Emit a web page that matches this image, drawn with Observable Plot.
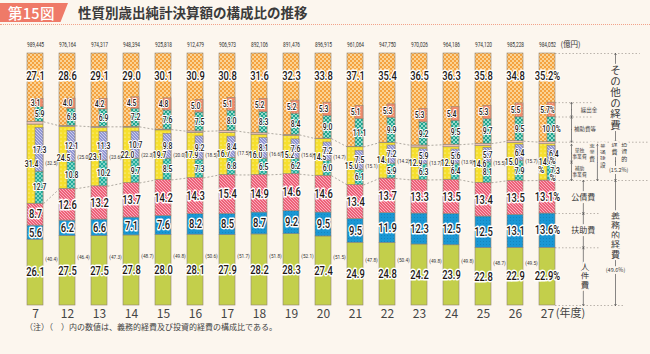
<!DOCTYPE html>
<html><head><meta charset="utf-8">
<script src="https://cdn.jsdelivr.net/npm/d3@7"></script>
<script src="https://cdn.jsdelivr.net/npm/@observablehq/plot@0.6"></script>
<style>
body{margin:0;background:#fcf6ee;font-family:"Noto Sans CJK JP",sans-serif;width:650px;height:354px;overflow:hidden}
#hdr{position:relative;height:28px}
#badge{position:absolute;left:0;top:3px;width:68px;height:19px;background:#ef7a68;clip-path:polygon(0 0,100% 0,89% 100%,0 100%);color:#fff;font-size:14.5px;font-weight:500;line-height:19px;padding-left:8px;box-sizing:border-box;letter-spacing:0.3px}
#title{position:absolute;left:78px;top:2px;font-size:13.5px;font-weight:700;color:#3b3b3b;line-height:21px}
#rule{position:absolute;left:0;right:0;top:24px;border-top:1.5px dotted #f2a38a}
#note{font-size:8px;color:#444;margin-left:25px;line-height:14px;white-space:pre}
#chart svg{display:block}
</style></head>
<body>
<svg width="0" height="0" style="position:absolute">
<defs>
<pattern id="pO" width="4" height="4" patternUnits="userSpaceOnUse"><rect width="4" height="4" fill="#f4a240"/><rect width="2" height="2" fill="#fbd394"/><rect x="2" y="2" width="2" height="2" fill="#fbd394"/></pattern>
<pattern id="pR" width="3" height="3" patternUnits="userSpaceOnUse"><rect width="3" height="3" fill="#ef8a6c"/><rect width="1" height="1" fill="#f6ad98"/></pattern>
<pattern id="pH" width="4" height="4" patternUnits="userSpaceOnUse"><rect width="4" height="4" fill="#1fa58e"/><path d="M0,0L2,2L4,0M0,4L2,2L4,4" stroke="#c8efe6" stroke-width="0.7" fill="none"/></pattern>
<pattern id="pD" width="3" height="3" patternUnits="userSpaceOnUse"><rect width="3" height="3" fill="#f1c3b8"/></pattern>
<pattern id="pY" width="4" height="4" patternUnits="userSpaceOnUse"><rect width="4" height="4" fill="#f6df2c"/><circle cx="1" cy="1" r="0.6" fill="#fffbe0"/></pattern>
<pattern id="pT" width="3" height="3" patternUnits="userSpaceOnUse"><rect width="3" height="3" fill="#9297d3"/><path d="M0,0L3,3" stroke="#d9dbf3" stroke-width="0.8"/></pattern>
<pattern id="pS" width="4" height="4" patternUnits="userSpaceOnUse"><rect width="4" height="4" fill="#22ad9c"/><path d="M0,0L4,4M4,0L0,4" stroke="#bfeee6" stroke-width="0.6"/></pattern>
<pattern id="pK" width="3" height="3" patternUnits="userSpaceOnUse"><rect width="3" height="3" fill="#ee6079"/><path d="M0,0L3,3" stroke="#f9c3cc" stroke-width="0.8"/></pattern>
<pattern id="pF" width="3" height="3" patternUnits="userSpaceOnUse"><rect width="3" height="3" fill="#1a97d4"/><rect width="1" height="1" fill="#1485bd"/></pattern>
<pattern id="pJ" width="3" height="3" patternUnits="userSpaceOnUse"><rect width="3" height="3" fill="#c3cf4b"/></pattern>
</defs>
</svg>
<div id="hdr"><div id="badge">第15図</div><div id="title">性質別歳出純計決算額の構成比の推移</div><div id="rule"></div></div>
<div id="chart"></div>
<div id="note">（注）（　）内の数値は、義務的経費及び投資的経費の構成比である。</div>
<script>
const years = ["7","12","13","14","15","16","17","18","19","20","21","22","23","24","25","26","27"];
const totals = ["989,445","976,164","974,317","948,394","925,818","912,479","906,973","892,106","891,476","896,915","961,064","947,750","970,026","964,186","974,120","985,228","984,052"];
// その他の経費
const otherExp = [27.1,28.6,29.1,29.0,30.1,30.9,30.8,31.6,32.3,33.8,37.1,35.4,36.5,36.3,35.8,34.8,35.2];
// 繰出金
const transfers = [3.1,4.0,4.2,4.5,4.8,5.0,5.1,5.2,5.2,5.3,5.1,5.3,5.3,5.4,5.3,5.5,5.7];
// 補助費等
const subsidies = [5.9,6.8,6.9,7.2,7.6,7.5,8.0,8.3,8.4,9.0,11.1,9.9,9.2,9.5,9.7,9.5,10.0];
// 投資的経費
const investment = [32.5,25.0,23.6,22.3,20.0,18.5,17.5,16.6,15.6,14.7,15.1,14.2,13.7,13.9,15.5,15.7,15.2];
// 普通建設事業費
const construction = [31.4,24.5,23.1,22.0,19.7,17.9,16.7,16.0,15.2,14.5,15.0,14.1,12.9,12.9,14.6,15.0,14.4];
// 単独事業費
const independent = [17.3,12.1,11.3,10.7,9.8,9.2,8.4,8.1,7.6,7.2,7.5,7.2,5.9,5.6,5.7,6.4,6.4];
// 補助事業費
const subsidized = [12.7,10.8,10.2,9.7,8.5,7.3,6.8,6.5,6.2,6.0,6.1,5.9,6.3,6.4,8.1,7.9,7.3];
// 義務的経費
const mandatory = [40.4,46.4,47.3,48.7,49.8,50.6,51.7,51.8,52.1,51.5,47.8,50.4,49.8,49.8,48.7,49.5,49.6];
// 人件費
const personnel = [26.1,27.5,27.5,27.8,28.0,28.1,27.9,28.2,28.3,27.4,24.9,24.8,24.2,23.9,22.8,22.9,22.9];
// 扶助費
const assistance = [5.6,6.2,6.6,7.1,7.6,8.2,8.5,8.7,9.2,9.5,9.5,11.9,12.3,12.5,12.5,13.1,13.6];
// 公債費
const debt = [8.7,12.6,13.2,13.7,14.2,14.3,15.4,14.9,14.6,14.6,13.4,13.7,13.3,13.5,13.4,13.5,13.1];

const N = years.length, LAST = N - 1;
const rows = years.map((year, i) => {
  const c1 = personnel[i], c2 = c1 + assistance[i], c3 = c2 + debt[i];
  const cb = c3 + construction[i], ci = c3 + investment[i];
  const s1 = c3 + subsidized[i], s2 = s1 + independent[i];
  const h1 = ci + subsidies[i], h2 = h1 + transfers[i];
  return {i, year, total: totals[i], c1, c2, c3, cb, ci, s1, s2, h1, h2};
});
const pct = i => i === LAST ? "%" : "";
const f = v => v.toFixed(1);

const W = 650, H = 292, MT = 25, MB = 15;
const K = (H - MT - MB) / 100;          // pixels per percentage point
const off = (y, px) => y - px / K;      // shift a data position down by px pixels

const S = "#8f8474", BG = "#fcf6ee";
const NUM = 'Roboto,"Liberation Sans",sans-serif';
const JP = '"Noto Sans CJK JP",sans-serif';
const big = {fontFamily: NUM, fontSize: 12, fontWeight: 500, fill: "#231815", stroke: "white", strokeWidth: 3, paintOrder: "stroke"};
const small = {fontFamily: NUM, fontSize: 8.5, fontWeight: 500, fill: "#231815", stroke: "white", strokeWidth: 2.2, paintOrder: "stroke"};
const paren = {fontFamily: NUM, fontSize: 6.2, fill: "#333"};
const squeeze = {"12": 0.78, "8.5": 0.8, "6.2": 0.76, "7.5": 0.64};

const seg = (y1, y2, fill, a = -0.25, b = 0.25) =>
  Plot.rect(rows, {x1: d => d.i + a, x2: d => d.i + b, y1, y2, fill, stroke: S, strokeWidth: 0.6});

const pairs = rows.slice(0, LAST).map((d, k) => ({i: d.i, a1: d.ci, a2: rows[k + 1].ci, b1: d.c3, b2: rows[k + 1].c3}));

// right-hand annotation (from the last bar)
const L = rows[LAST];
const cA = LAST + 0.75, cB = LAST + 1.12, cC = LAST + 1.56, cD = LAST + 2.125;
const dims = [
  {x: cA, lo: L.h1, hi: L.h2}, {x: cA, lo: L.ci, hi: L.h1},
  {x: cA, lo: L.s1, hi: L.cb}, {x: cA, lo: L.c3, hi: L.s1},
  {x: cC, lo: L.c3, hi: L.cb}, {x: cD, lo: L.c3, hi: L.ci},
  {x: cD, lo: L.ci, hi: 100}, {x: cB, lo: L.c2, hi: L.c3},
  {x: cB, lo: L.c1, hi: L.c2}, {x: cB, lo: 0, hi: L.c1},
  {x: cD, lo: 0, hi: L.c3}
];
const arrows = dims.flatMap(d => [{x: d.x, y1: (d.lo + d.hi) / 2, y2: d.hi}, {x: d.x, y1: (d.lo + d.hi) / 2, y2: d.lo}]);
const guides = [
  {y: 100, x2: LAST + 2.9}, {y: L.h2, x2: LAST + 1.4}, {y: L.h1, x2: LAST + 1.4},
  {y: L.ci, x2: LAST + 3.2}, {y: L.c3, x2: LAST + 3.2}, {y: L.c2, x2: LAST + 1.65},
  {y: L.c1, x2: LAST + 1.65}, {y: 0, x2: LAST + 2.4}
];
const halo = {stroke: BG, strokeWidth: 4, paintOrder: "stroke", fill: "#3a3a3a", fontFamily: JP};
const notes = [
  {x: LAST + 1.3, y: (L.h1 + L.h2) / 2, t: "繰出金", s: 5.5},
  {x: LAST + 1.17, y: (L.ci + L.h1) / 2, t: "補助費等", s: 5.5},
  {x: LAST + 1.0, y: off((L.s1 + L.cb) / 2, -3.2), t: "単独", s: 4.8},
  {x: LAST + 1.0, y: off((L.s1 + L.cb) / 2, 3.2), t: "事業費", s: 4.8},
  {x: LAST + 1.0, y: off((L.c3 + L.s1) / 2, -3.2), t: "補助", s: 4.8},
  {x: LAST + 1.0, y: off((L.c3 + L.s1) / 2, 3.2), t: "事業費", s: 4.8}
];
// vertical Japanese labels: one text per character, stacked downward around the block centre
const vertical = (x, y, str, s, px0) => {
  const n = str.length, step = s * 1.05;
  return Array.from(str, (ch, k) => ({x, y: off(y, px0 + (k - (n - 1) / 2) * step), t: ch, s}));
};
const haloNotes = [
  ...vertical(cC + 0.17, (L.c3 + L.cb) / 2, "普通建設", 5.6, -6),
  ...vertical(cC - 0.17, (L.c3 + L.cb) / 2, "事業費", 5.6, -9),
  ...vertical(cD + 0.27, (L.c3 + L.ci) / 2, "投資的", 6, -9),
  ...vertical(cD - 0.03, (L.c3 + L.ci) / 2, "経費", 6, -12),
  {x: cD + 0.1, y: off((L.c3 + L.ci) / 2, 9), t: "(15.2%)", s: 5.5},
  ...vertical(cD, (L.ci + 100) / 2, "その他の経費", 10.5, 0),
  {x: cB, y: (L.c2 + L.c3) / 2, t: "公債費", s: 8},
  {x: cB, y: (L.c1 + L.c2) / 2, t: "扶助費", s: 8},
  ...vertical(cB + 0.05, L.c1 / 2, "人件費", 8.5, 0),
  ...vertical(cD, L.c3 / 2, "義務的経費", 9, -7),
  {x: cD, y: off(L.c3 / 2, 27), t: "(49.6%)", s: 5.5}
];
const lastPct = [
  {x: LAST - 0.2, y: off((L.c3 + L.cb) / 2, 8)},
  {x: LAST + 0.16, y: off((L.s1 + L.s2) / 2, 7)},
  {x: LAST + 0.16, y: off((L.c3 + L.s1) / 2, 7)}
];

const chart = Plot.plot({
  width: W, height: H,
  marginLeft: 19, marginRight: 87, marginTop: MT, marginBottom: MB,
  x: {domain: [-0.5, 16.5], axis: null},
  y: {domain: [0, 100], axis: null},
  style: {background: "transparent", overflow: "visible"},
  marks: [
    Plot.ruleY(guides, {y: "y", x1: LAST + 0.25, x2: "x2", stroke: "#a9a39a", strokeWidth: 0.8, strokeDasharray: "1.5,2"}),
    Plot.link(pairs, {x1: d => d.i + 0.25, y1: "a1", x2: d => d.i + 0.75, y2: "a2", stroke: "#9a958d", strokeWidth: 0.8, strokeDasharray: "2,2"}),
    Plot.link(pairs, {x1: d => d.i + 0.25, y1: "b1", x2: d => d.i + 0.75, y2: "b2", stroke: "#9a958d", strokeWidth: 0.8, strokeDasharray: "2,2"}),
    seg(0, "c1", "url(#pJ)"),
    seg("c1", "c2", "url(#pF)"),
    seg("c2", "c3", "url(#pK)"),
    seg("c3", "cb", "url(#pY)"),
    seg("cb", "ci", "url(#pD)"),
    seg("ci", 100, "url(#pO)"),
    seg("c3", "s1", "url(#pS)", 0, 0.25),
    seg("s1", "s2", "url(#pT)", 0, 0.25),
    seg("ci", "h1", "url(#pH)", 0, 0.25),
    seg("h1", "h2", "url(#pR)", 0, 0.25),
    // value labels
    Plot.text(rows, {x: "i", y: 100, dy: -9, text: "total", fontFamily: NUM, fontSize: 7.5, fill: "#333"}),
    Plot.text([L], {x: "i", y: 100, dy: -9, dx: 23, text: () => "(億円)", fontFamily: JP, fontSize: 7.5, fill: "#333"}),
    Plot.text(rows, {x: "i", y: 100, dy: 23, text: d => f(otherExp[d.i]) + pct(d.i), ...big}),
    Plot.text(rows, {x: "i", y: d => (d.h1 + d.h2) / 2, text: d => f(transfers[d.i]) + pct(d.i), ...small}),
    Plot.text(rows, {x: d => d.i + 0.125, y: d => (d.ci + d.h1) / 2, text: d => f(subsidies[d.i]) + pct(d.i), ...small}),
    Plot.text(rows, {x: d => d.i - (d.i === LAST ? 0.06 : 0.125), y: d => (d.c3 + d.cb) / 2, text: d => f(construction[d.i]), ...small}),
    Plot.text(rows, {x: d => d.i + (d.i === LAST ? 0.2 : 0.125), y: d => (d.s1 + d.s2) / 2, text: d => f(independent[d.i]), ...small}),
    Plot.text(rows, {x: d => d.i + (d.i === LAST ? 0.24 : 0.125), y: d => (d.c3 + d.s1) / 2, text: d => f(subsidized[d.i]), ...small}),
    Plot.text(lastPct, {x: "x", y: "y", text: () => "%", ...small}),
    Plot.text(rows, {x: "i", y: d => (d.c2 + d.c3) / 2, text: d => f(debt[d.i]) + pct(d.i), ...big}),
    Plot.text(rows, {x: "i", y: d => (d.c1 + d.c2) / 2, text: d => f(assistance[d.i]) + pct(d.i), ...big}),
    Plot.text(rows, {x: "i", y: d => d.c1 / 2, text: d => f(personnel[d.i]) + pct(d.i), ...big}),
    Plot.text(rows.slice(0, LAST), {x: d => d.i + 0.5, y: d => (d.c3 + d.ci) / 2, text: d => `(${f(investment[d.i])})`, ...paren}),
    Plot.text(rows.slice(0, LAST), {x: d => d.i + 0.5, y: d => d.c1 / 2, dy: -14, text: d => `(${f(mandatory[d.i])})`, ...paren}),
    // year axis
    Plot.text(rows, {x: "i", y: 0, dy: 4, lineAnchor: "top", text: "year", fontFamily: JP, fontSize: 12, fill: "#444"}),
    Plot.text([L], {x: "i", y: 0, dy: 4, dx: 23, lineAnchor: "top", text: () => "(年度)", fontFamily: JP, fontSize: 11, fill: "#444"}),
    // right annotation
    Plot.arrow(arrows, {x1: "x", x2: "x", y1: "y1", y2: "y2", stroke: "#555", strokeWidth: 0.7, headLength: 3, headAngle: 70}),
    Plot.text(notes, {x: "x", y: "y", text: "t", fontSize: d => d.s, fontFamily: JP, fill: "#444"}),
    Plot.text(haloNotes, {x: "x", y: "y", text: "t", fontSize: d => d.s, ...halo})
  ]
});
document.getElementById("chart").appendChild(chart);

// condense the numeric labels horizontally (the original uses a narrow face)
chart.querySelectorAll("g[font-family]").forEach(g => {
  if (!g.getAttribute("font-family").includes("Roboto")) return;
  const k = squeeze[g.getAttribute("font-size")];
  if (!k) return;
  g.querySelectorAll("text").forEach(t => {
    if (t.textContent.length < 2) return;
    const w = t.getComputedTextLength();
    if (w > 0) {
      t.setAttribute("textLength", (w * k).toFixed(2));
      t.setAttribute("lengthAdjust", "spacingAndGlyphs");
    }
  });
});
</script>
</body></html>
